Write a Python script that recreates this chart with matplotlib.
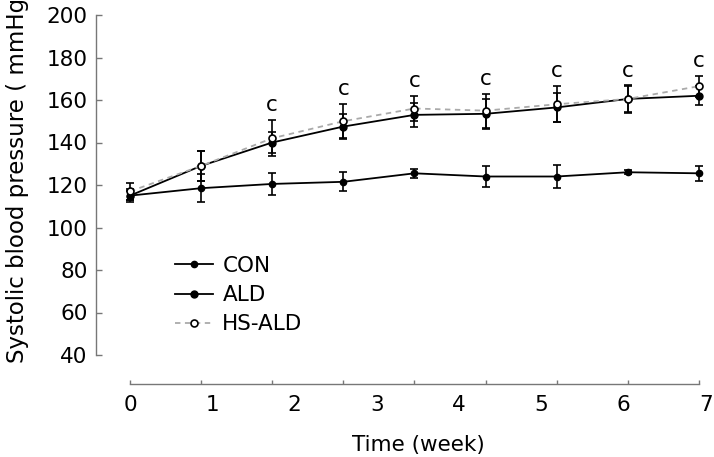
import numpy as np
import matplotlib
matplotlib.use("Agg")
import matplotlib.pyplot as plt

# measurement points (tick index along the time axis)
t = np.arange(9)
week_labels = ["0", "1", "2", "3", "4", "5", "6", "7"]

con_mean = [115, 118.5, 120.5, 121.5, 125.5, 124, 124, 126, 125.5]
con_err = [3, 6.5, 5, 4.5, 2, 5, 5.5, 1, 3.5]
ald_mean = [115, 129, 140, 147.5, 153, 153.5, 156.5, 160.5, 162]
ald_err = [2, 7, 5, 6, 5.5, 7, 7, 6.5, 4.5]
hs_mean = [117, 129, 142, 150, 156, 155, 158, 160.5, 166.5]
hs_err = [4, 7, 8.5, 8, 6, 8, 8.5, 6, 5]
sig = ["", "", "c", "c", "c", "c", "c", "c", "c"]

plt.rcParams["font.family"] = "DejaVu Sans"
fs = 15.5

fig = plt.figure(figsize=(7.14, 4.57), dpi=100)
ax = fig.add_axes([130 / 714, 1 - 355 / 457, 576 / 714, 340 / 457])

eb_kw = dict(capsize=2.8, elinewidth=1.2, capthick=1.2, clip_on=False)
con = ax.errorbar(t, con_mean, yerr=con_err, color="black", lw=1.3, marker="o", ms=4.5,
                  label="CON", zorder=3, **eb_kw)
ald = ax.errorbar(t, ald_mean, yerr=ald_err, color="black", lw=1.3, marker="o", ms=5,
                  label="ALD", zorder=3, **eb_kw)
hs = ax.errorbar(t, hs_mean, yerr=hs_err, color="black", lw=1.3, marker="o", ms=5,
                 mfc="white", mec="black", mew=1.2, label="HS-ALD", zorder=4, **eb_kw)
hs.lines[0].set_color("#aaaaaa")
hs.lines[0].set_linestyle((0, (3, 2.5)))
hs.lines[0].set_markeredgecolor("black")

for xi, m, e, s in zip(t, hs_mean, hs_err, sig):
    if s:
        ax.text(xi, m + e + 7, s, ha="center", va="center", fontsize=fs, color="black")

ax.set_xlim(0, 8)
ax.set_ylim(40, 200)

for side in ["top", "right"]:
    ax.spines[side].set_visible(False)
ax.spines["left"].set_position(("outward", 24.5))
ax.spines["bottom"].set_position(("outward", 21))
ax.spines["left"].set_bounds(40, 200)
ax.spines["bottom"].set_bounds(0, 8)
for side in ["left", "bottom"]:
    ax.spines[side].set_color("#777777")
    ax.spines[side].set_linewidth(1.0)

ax.set_yticks(np.arange(40, 201, 20))
ax.tick_params(axis="y", direction="in", length=4, width=1, color="#777777",
               labelsize=fs, pad=6)

# the week labels in the original do not sit on the tick marks
ax.xaxis.remove_overlapping_locs = False
ax.set_xticks(t, [""] * len(t))
ax.set_xticks(np.arange(len(week_labels)) * 8.1 / 7, week_labels, minor=True)
ax.tick_params(axis="x", which="major", direction="in", length=3, width=1, color="#777777")
ax.tick_params(axis="x", which="minor", length=0, labelsize=fs, pad=8)

ax.set_xlabel("Time (week)", fontsize=fs, labelpad=14)
fig.text(18 / 714, 1 - 363 / 457, "Systolic blood pressure ( mmHg)", rotation=90,
         ha="center", va="bottom", fontsize=16.5)

leg = ax.legend([con.lines[0], ald.lines[0], hs.lines[0]], ["CON", "ALD", "HS-ALD"],
                loc="upper left", bbox_to_anchor=(175 / 714, 1 - 256 / 457),
                bbox_transform=fig.transFigure, frameon=False, fontsize=fs,
                handlelength=1.75, handletextpad=0.45, labelspacing=0.42,
                borderpad=0, borderaxespad=0)

fig.savefig("out.png", dpi=100)
